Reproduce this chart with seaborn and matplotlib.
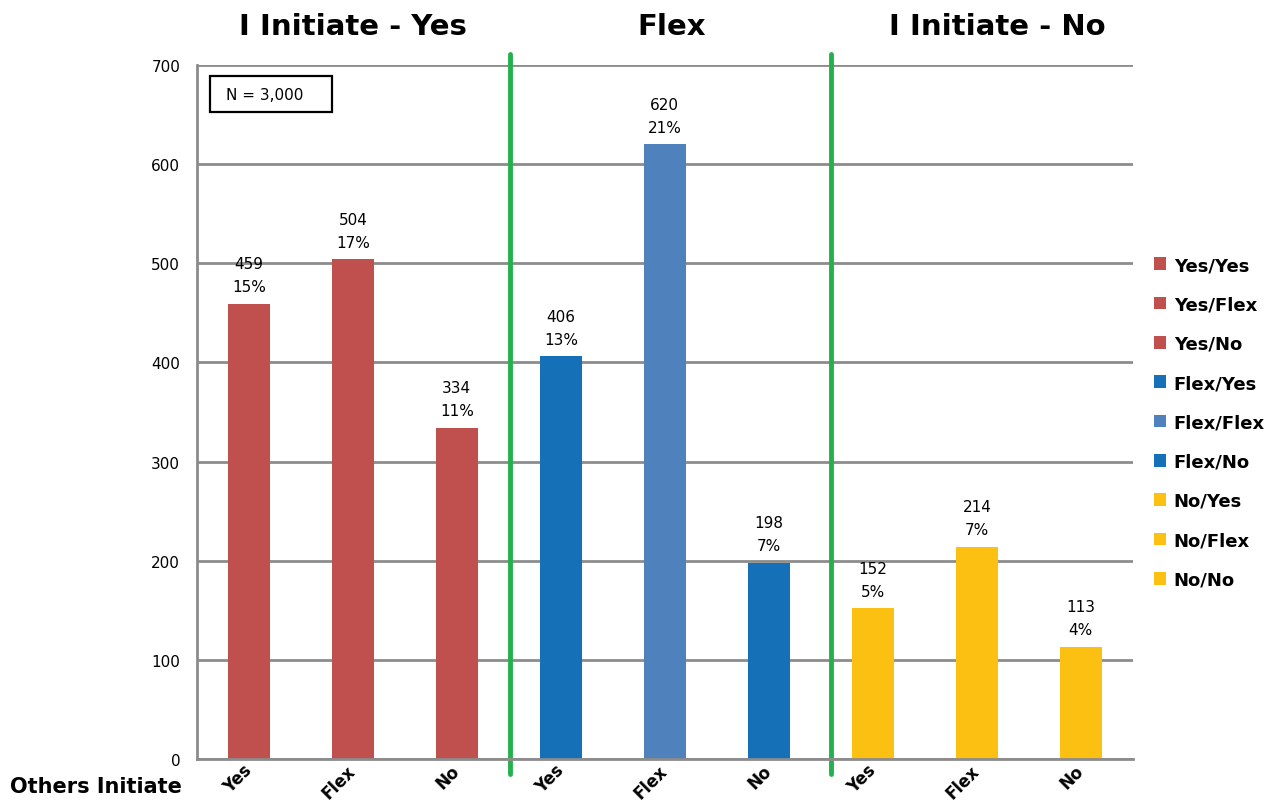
import matplotlib
matplotlib.use("Agg")
import matplotlib.pyplot as plt
from matplotlib.patches import Rectangle
import seaborn as sns
import pandas as pd

# Combined response pairs (I initiate / others initiate)
pairs = ["Yes/Yes", "Yes/Flex", "Yes/No",
         "Flex/Yes", "Flex/Flex", "Flex/No",
         "No/Yes", "No/Flex", "No/No"]
others = ["Yes", "Flex", "No"] * 3
counts = [459, 504, 334, 406, 620, 198, 152, 214, 113]
percents = [15, 17, 11, 13, 21, 7, 5, 7, 4]
groups = ["I Initiate - Yes", "Flex", "I Initiate - No"]
colors = ["#C0504D", "#C0504D", "#C0504D",
          "#1570B8", "#4F81BD", "#1570B8",
          "#FBC012", "#FBC012", "#FBC012"]

df = pd.DataFrame({"pair": pairs, "count": counts})

sns.set_theme(style="white")
plt.rcParams["font.family"] = ["DejaVu Sans"]
plt.rcParams["text.color"] = "black"
plt.rcParams["xtick.color"] = "black"
plt.rcParams["ytick.color"] = "black"
plt.rcParams["axes.labelcolor"] = "black"

fig = plt.figure(figsize=(12.7, 8.04), dpi=100)
ax = fig.add_axes([0.155, 0.0547, 0.737, 0.8633])

sns.barplot(data=df, x="pair", y="count", hue="pair", palette=colors,
            order=pairs, hue_order=pairs, width=0.4, dodge=False,
            legend=True, ax=ax, saturation=1, linewidth=0)

ax.set_xlim(-0.5, 8.5)
ax.set_ylim(0, 700)
ax.set_yticks(range(0, 701, 100))
ax.yaxis.grid(True, color="#8C8C8C", linewidth=2)
ax.set_axisbelow(True)
for side in ["top", "right"]:
    ax.spines[side].set_visible(False)
for side in ["left", "bottom"]:
    ax.spines[side].set_color("#8C8C8C")
    ax.spines[side].set_linewidth(2)
ax.tick_params(axis="y", length=6, width=2, color="#8C8C8C", labelcolor="black",
               labelsize=11, pad=6)
ax.tick_params(axis="x", length=0, pad=6, labelcolor="black")
ax.set_xticks(range(len(pairs)))
ax.set_xticklabels(others, rotation=45, fontsize=12, fontweight="bold")
for lbl in ax.get_xticklabels():
    lbl.set_rotation_mode("anchor")
    lbl.set_ha("right")
    lbl.set_va("center")
ax.set_xlabel("")
ax.set_ylabel("")

# value / share labels above each bar
for i, (c, p) in enumerate(zip(counts, percents)):
    ax.annotate(f"{c}\n{p}%", (i, c), xytext=(0, 7), textcoords="offset points",
                ha="center", va="bottom", fontsize=11, linespacing=1.65,
                color="black")

# green separators between the three groups
for xs in [2.51, 5.6]:
    ax.plot([xs, xs], [-0.022, 1.016], color="#22B14C", linewidth=3.5,
            transform=ax.get_xaxis_transform(), clip_on=False)

# group headers
for gx, g in zip([1.0, 4.07, 7.2], groups):
    ax.text(gx, 1.056, g, transform=ax.get_xaxis_transform(), ha="center",
            va="center", fontsize=21, fontweight="bold", color="black")

# sample size box
ax.add_patch(Rectangle((0.0139, 0.932), 0.131, 0.052, transform=ax.transAxes,
                       facecolor="white", edgecolor="black", linewidth=1.6,
                       clip_on=False, zorder=5))
ax.text(0.031, 0.958, "N = 3,000", transform=ax.transAxes, ha="left",
        va="center", fontsize=11, color="black", zorder=6)

fig.text(10 / 1270, 1 - 787 / 804, "Others Initiate", ha="left", va="center",
         fontsize=15, fontweight="bold", color="black")

leg = ax.legend(loc="upper left", bbox_to_anchor=(1.005, 0.748), frameon=False,
                handlelength=0.7, handleheight=0.7, handletextpad=0.4,
                labelspacing=1.18, prop={"weight": "bold", "size": 13})
for t in leg.get_texts():
    t.set_color("black")

fig.savefig("out.png", dpi=100)
